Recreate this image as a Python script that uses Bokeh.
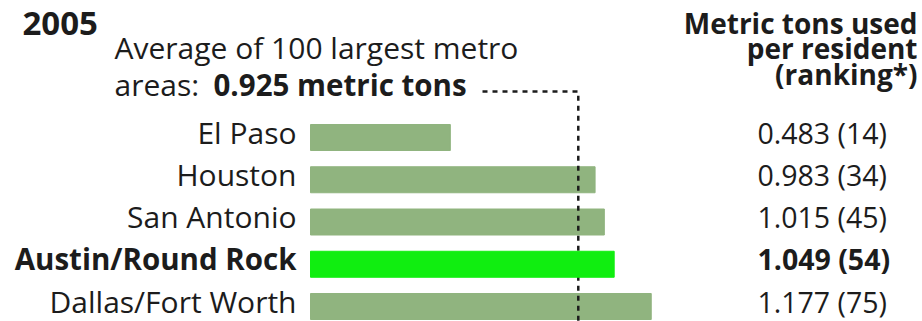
from bokeh.plotting import figure
from bokeh.models import Range1d, ColumnDataSource, Label, CDSView, IndexFilter
from bokeh.core.properties import value
from bokeh.embed import file_html
from bokeh.resources import INLINE

# ---------------- data ----------------
year = "2005"
cities = ["El Paso", "Houston", "San Antonio", "Austin/Round Rock", "Dallas/Fort Worth"]
tons = [0.483, 0.983, 1.015, 1.049, 1.177]
ranks = [14, 34, 45, 54, 75]
highlight = "Austin/Round Rock"
average = 0.925
subtitle_1 = "Average of 100 largest metro"
subtitle_2a = "areas: "
subtitle_2b = "0.925 metric tons"
header = ["Metric tons used", "per resident", "(ranking*)"]

# ---------------- layout ----------------
W, H = 922, 321
X0 = 310          # pixel position of value 0
PPU = 289.5       # pixels per metric ton
ROW0 = 137        # pixel centre of first row (from top)
STEP = 42.25      # row spacing in pixels
BAR_H = 26
FONT = "Open Sans"
INK = "#1c1c1c"
MUTED = "#90b47f"
BRIGHT = "#10ee10"
FIX = 0.45        # baseline correction factor (fraction of font size)

rows = list(range(len(cities)))
ycent = [ROW0 + STEP * i for i in rows]
is_hi = [c == highlight for c in cities]

src = ColumnDataSource(dict(
    city=cities,
    tons=tons,
    y=ycent,
    color=[BRIGHT if h else MUTED for h in is_hi],
    style=["bold" if h else "normal" for h in is_hi],
    lsize=["29.5px" if h else "30px" for h in is_hi],
    vtext=[f"{t:.3f} ({r})" for t, r in zip(tons, ranks)],
    vx=[(757 - X0) / PPU] * len(cities),
    lx=[0.0] * len(cities),
))

p = figure(width=W, height=H,
           x_range=Range1d(-X0 / PPU, (W - X0) / PPU),
           y_range=Range1d(H, 0),
           output_backend="svg", toolbar_location=None,
           x_axis_location=None, y_axis_location=None,
           min_border=0, outline_line_color=None,
           background_fill_color="white", border_fill_color="white")
p.grid.visible = False

normal_idx = [i for i, h in enumerate(is_hi) if not h]
hi_idx = [i for i, h in enumerate(is_hi) if h]

p.hbar(y="y", left=0, right="tons", height=BAR_H, color="color", source=src,
       view=CDSView(filter=IndexFilter(normal_idx)))

# average guide line
dash_start = (482 - X0) / PPU
p.line(x=[dash_start, average, average], y=[91, 91, H],
       line_color=INK, line_width=2.5, line_dash="5 5")

p.hbar(y="y", left=0, right="tons", height=BAR_H, color="color", source=src,
       view=CDSView(filter=IndexFilter(hi_idx)))

# city labels
p.text(x="lx", y="y", text="city", source=src, x_offset=-14, y_offset=8 - FIX * 30,
       text_align="right", text_baseline="alphabetic",
       text_font=value(FONT), text_font_size="lsize", text_font_style="style",
       text_color=INK)

# value labels
p.text(x="vx", y="y", text="vtext", source=src, y_offset=8 - FIX * 28.5,
       text_align="left", text_baseline="alphabetic",
       text_font=value(FONT), text_font_size="28.5px", text_font_style="style",
       text_color=INK)

def lab(txt, x, y, size, style="normal", align="left"):
    p.add_layout(Label(x=x, y=y - FIX * size, x_units="screen", y_units="data", text=txt,
                       text_font=FONT, text_font_size=f"{size}px", text_font_style=style,
                       text_color=INK, text_align=align, text_baseline="alphabetic"))

lab(year, 22, 38, 33, "bold")
lab(subtitle_1, 114, 60, 30)
lab(subtitle_2a, 114, 97, 30)
lab(subtitle_2b, 213, 97, 29.5, "bold")
for i, t in enumerate(header):
    lab(t, 917, 35 + 25.5 * i, 28, "bold", "right")

open("out.html", "w").write(file_html(p, INLINE))
